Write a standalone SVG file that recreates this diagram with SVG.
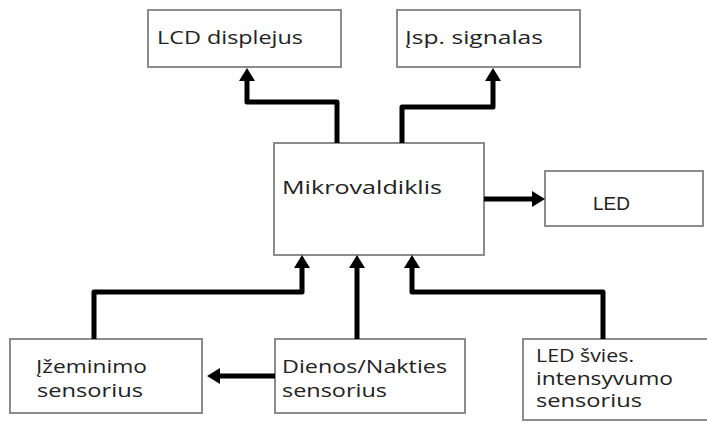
<svg xmlns="http://www.w3.org/2000/svg" width="707" height="425" viewBox="0 0 707 425">
<style>
.box{fill:#fff;stroke:#8c8c8c;stroke-width:2}
.t{font-family:"Open Sans","DejaVu Sans",sans-serif;font-size:18px;fill:#222}
.a{font-family:"Liberation Sans",Arial,sans-serif;font-size:18px;fill:#222}
.c{fill:none;stroke:#000;stroke-width:5;stroke-linejoin:round}
</style>
<defs>
<marker id="ah" markerUnits="userSpaceOnUse" markerWidth="14" markerHeight="16" refX="0" refY="8" orient="auto" overflow="visible">
<path d="M0,0 L13,8 L0,16 z" fill="#000"/>
</marker>
</defs>
<rect width="707" height="425" fill="#fff"/>
<g id="lcd"><rect class="box" x="148" y="10" width="193" height="57"/><text class="t" x="157" y="44" textLength="146" lengthAdjust="spacingAndGlyphs">LCD displejus</text></g>
<g id="isp"><rect class="box" x="397" y="10" width="183" height="57"/><text class="t" x="405" y="44" textLength="138" lengthAdjust="spacingAndGlyphs">Įsp. signalas</text></g>
<g id="mcu"><rect class="box" x="274" y="143" width="210" height="112"/><text class="t" x="282" y="194" textLength="160" lengthAdjust="spacingAndGlyphs">Mikrovaldiklis</text></g>
<g id="led"><rect class="box" x="545" y="171" width="158" height="55"/><text class="a" x="593" y="210" textLength="37" lengthAdjust="spacingAndGlyphs">LED</text></g>
<g id="izem"><rect class="box" x="10" y="339" width="192" height="74"/><text class="t" x="36" y="373" textLength="111" lengthAdjust="spacingAndGlyphs">Įžeminimo</text><text class="t" x="37" y="397" textLength="106" lengthAdjust="spacingAndGlyphs">sensorius</text></g>
<g id="dien"><rect class="box" x="275" y="339" width="190" height="74"/><text class="t" x="282" y="373" textLength="165" lengthAdjust="spacingAndGlyphs">Dienos/Nakties</text><text class="t" x="282" y="397" textLength="105" lengthAdjust="spacingAndGlyphs">sensorius</text></g>
<g id="ledint"><rect class="box" x="523" y="339" width="190" height="81"/><text class="t" x="536" y="362" textLength="98" lengthAdjust="spacingAndGlyphs">LED švies.</text><text class="t" x="536" y="385" textLength="137" lengthAdjust="spacingAndGlyphs">intensyvumo</text><text class="t" x="536" y="407" textLength="106" lengthAdjust="spacingAndGlyphs">sensorius</text></g>
<g id="connectors">
<path class="c" marker-end="url(#ah)" d="M337,143 V102 H247 V81"/>
<path class="c" marker-end="url(#ah)" d="M402,143 V107 H493 V81"/>
<path class="c" marker-end="url(#ah)" d="M484,199 H532"/>
<path class="c" marker-end="url(#ah)" d="M94,339 V292 H302 V268"/>
<path class="c" marker-end="url(#ah)" d="M357,339 V268"/>
<path class="c" marker-end="url(#ah)" d="M603,339 V292 H412 V268"/>
<path class="c" marker-end="url(#ah)" d="M275,376 H220"/>
</g>
</svg>
